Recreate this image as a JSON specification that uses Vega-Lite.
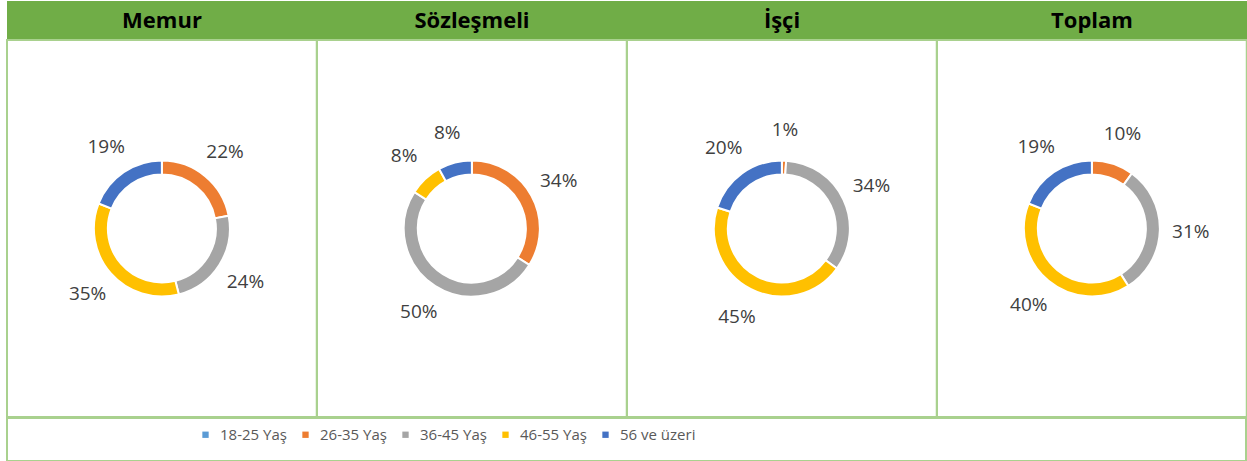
{
  "$schema": "https://vega.github.io/schema/vega-lite/v6.json",
  "padding": {"left": 6, "top": 1, "right": 0, "bottom": 0},
  "background": "white",
  "config": {
    "view": {"stroke": "#A9D18E", "strokeWidth": 2},
    "style": {"view": {"stroke": "#A9D18E", "strokeWidth": 2}},
    "font": "Open Sans"
  },
  "datasets": {
    "ages": [
      {"group": "Memur", "age": "26-35 Yaş", "value": 0.22},
      {"group": "Memur", "age": "36-45 Yaş", "value": 0.24},
      {"group": "Memur", "age": "46-55 Yaş", "value": 0.35},
      {"group": "Memur", "age": "56 ve üzeri", "value": 0.19},
      {"group": "Sözleşmeli", "age": "26-35 Yaş", "value": 0.34},
      {"group": "Sözleşmeli", "age": "36-45 Yaş", "value": 0.50},
      {"group": "Sözleşmeli", "age": "46-55 Yaş", "value": 0.08},
      {"group": "Sözleşmeli", "age": "56 ve üzeri", "value": 0.08},
      {"group": "İşçi", "age": "26-35 Yaş", "value": 0.01},
      {"group": "İşçi", "age": "36-45 Yaş", "value": 0.34},
      {"group": "İşçi", "age": "46-55 Yaş", "value": 0.45},
      {"group": "İşçi", "age": "56 ve üzeri", "value": 0.20},
      {"group": "Toplam", "age": "26-35 Yaş", "value": 0.10},
      {"group": "Toplam", "age": "36-45 Yaş", "value": 0.31},
      {"group": "Toplam", "age": "46-55 Yaş", "value": 0.40},
      {"group": "Toplam", "age": "56 ve üzeri", "value": 0.19}
    ]
  },
  "spacing": 0,
  "vconcat": [
    {
      "data": {"name": "ages"},
      "transform": [{"aggregate": [{"op": "count", "as": "n"}], "groupby": ["group"]}],
      "width": 1240,
      "height": 38,
      "view": {"fill": "#70AD47", "stroke": null},
      "mark": {"type": "text", "font": "Open Sans", "fontSize": 22, "fontWeight": "bold", "color": "#000000", "dy": 1},
      "encoding": {
        "x": {"field": "group", "type": "nominal", "sort": ["Memur", "Sözleşmeli", "İşçi", "Toplam"], "axis": null, "scale": {"paddingInner": 0, "paddingOuter": 0}},
        "text": {"field": "group", "type": "nominal"}
      }
    },
    {
      "spacing": -3,
      "vconcat": [
        {
          "data": {"name": "ages"},
          "facet": {"column": {"field": "group", "type": "nominal", "sort": ["Memur", "Sözleşmeli", "İşçi", "Toplam"], "header": null}},
          "spacing": 0,
          "bounds": "flush",
          "spec": {
            "width": 309.75,
            "height": 377,
            "encoding": {
              "theta": {"field": "value", "type": "quantitative", "stack": "normalize"},
              "order": {"field": "age", "type": "ordinal", "sort": "ascending"}
            },
            "layer": [
              {
                "mark": {"type": "arc", "outerRadius": 68, "innerRadius": 54, "stroke": "white", "strokeWidth": 2},
                "encoding": {
                  "color": {
                    "field": "age",
                    "type": "nominal",
                    "scale": {
                      "domain": ["18-25 Yaş", "26-35 Yaş", "36-45 Yaş", "46-55 Yaş", "56 ve üzeri"],
                      "range": ["#5B9BD5", "#ED7D31", "#A5A5A5", "#FFC000", "#4472C4"]
                    },
                    "legend": {
                      "orient": "none",
                      "legendX": 191,
                      "legendY": 426,
                      "direction": "horizontal",
                      "title": null,
                      "symbolType": "square",
                      "symbolSize": 40,
                      "symbolStrokeWidth": 0,
                      "labelFont": "Open Sans",
                      "labelFontSize": 15,
                      "labelColor": "#595959",
                      "labelLimit": 200,
                      "columnPadding": 11,
                      "labelOffset": 7
                    }
                  }
                }
              },
              {
                "mark": {"type": "text", "radius": 99, "font": "Open Sans", "fontSize": 19, "fill": "#404040"},
                "encoding": {
                  "detail": {"field": "age", "type": "nominal"},
                  "text": {"field": "value", "type": "quantitative", "format": ".0%"}
                }
              }
            ]
          }
        },
        {
          "data": {"name": "ages"},
          "width": 1239,
          "height": 43,
          "mark": {"type": "point", "opacity": 0},
          "encoding": {}
        }
      ]
    }
  ]
}
